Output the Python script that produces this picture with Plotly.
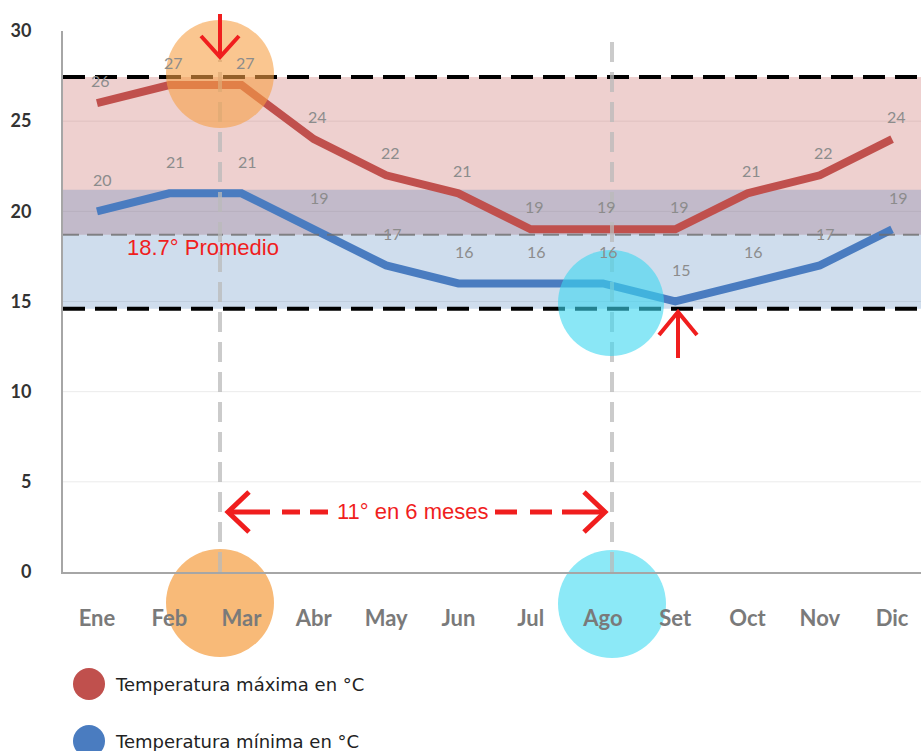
import plotly.graph_objects as go

# --- data -------------------------------------------------------------
meses = ["Ene", "Feb", "Mar", "Abr", "May", "Jun", "Jul", "Ago", "Set", "Oct", "Nov", "Dic"]
temp_max = [26, 27, 27, 24, 22, 21, 19, 19, 19, 21, 22, 24]
temp_min = [20, 21, 21, 19, 17, 16, 16, 16, 15, 16, 17, 19]
promedio = 18.7
banda_max_top = 27.45
banda_min_top = 21.2
banda_min_bottom = 14.6
y_ticks = [0, 5, 10, 15, 20, 25, 30]

# --- canvas geometry --------------------------------------------------
W, H = 921, 751
ML, MR, MT, MB = 63, 0, 31, 179
PW, PH = W - ML - MR, H - MT - MB


def px(x):
    return (x - ML) / PW


def py(y):
    return (H - MB - y) / PH


RED = "#C0504D"
BLUE = "#4A7CC0"
ANN_RED = "#F01E1E"

x_idx = list(range(len(meses)))

fig = go.Figure()
fig.add_trace(go.Scatter(x=x_idx, y=temp_max, mode="lines", name="Temperatura máxima en °C",
                         line=dict(color=RED, width=8), hoverinfo="x+y"))
fig.add_trace(go.Scatter(x=x_idx, y=temp_min, mode="lines", name="Temperatura mínima en °C",
                         line=dict(color=BLUE, width=8), hoverinfo="x+y"))

shapes = []
# light horizontal gridlines
for v in y_ticks[1:-1]:
    shapes.append(dict(type="line", xref="paper", yref="y", x0=0, x1=1, y0=v, y1=v,
                       line=dict(color="#EBEBEB", width=1), layer="below"))
# shaded ranges
shapes.append(dict(type="rect", xref="paper", yref="y", x0=0, x1=1, y0=promedio, y1=banda_max_top,
                   fillcolor="rgba(192,80,77,0.27)", line=dict(width=0), layer="below"))
shapes.append(dict(type="rect", xref="paper", yref="y", x0=0, x1=1, y0=banda_min_bottom, y1=banda_min_top,
                   fillcolor="rgba(79,129,189,0.27)", line=dict(width=0), layer="below"))
# average line
shapes.append(dict(type="line", xref="paper", yref="y", x0=0, x1=1, y0=promedio, y1=promedio,
                   line=dict(color="rgba(110,110,110,0.8)", width=2, dash="16px,8px"), layer="above"))
# extreme lines
for v in (banda_max_top, banda_min_bottom):
    shapes.append(dict(type="line", xref="paper", yref="y", x0=0, x1=1, y0=v, y1=v,
                       line=dict(color="black", width=4, dash="22px,10px"), layer="above"))
# vertical markers
shapes.append(dict(type="line", xref="paper", yref="paper", x0=px(220), x1=px(220), y0=py(572), y1=py(60),
                   line=dict(color="rgba(185,185,185,0.75)", width=4, dash="20px,10px"), layer="above"))
shapes.append(dict(type="line", xref="paper", yref="paper", x0=px(612), x1=px(612), y0=py(572), y1=py(33),
                   line=dict(color="rgba(185,185,185,0.75)", width=4, dash="20px,10px"), layer="above"))


# highlight circles
def circle(cx, cy, r, color, layer):
    return dict(type="circle", xref="paper", yref="paper", xsizemode="pixel", ysizemode="pixel",
                xanchor=px(cx), yanchor=py(cy), x0=-r, x1=r, y0=-r, y1=r,
                fillcolor=color, line=dict(width=0), layer=layer)


ORANGE = "rgba(247,160,70,0.6)"
CYAN = "rgba(60,215,240,0.6)"
shapes.append(circle(220, 74, 54, ORANGE, "above"))
shapes.append(circle(611, 303, 53, CYAN, "above"))
shapes.append(circle(220, 603, 54, "rgba(248,186,120,1)", "below"))
shapes.append(circle(612, 604, 54, "rgba(140,233,247,1)", "below"))


def path(points):
    return "M " + " L ".join(f"{px(a)},{py(b)}" for a, b in points)


def red_path(points, width=4, dash="solid"):
    return dict(type="path", xref="paper", yref="paper", path=path(points),
                line=dict(color=ANN_RED, width=width, dash=dash), layer="above")


# arrows
shapes.append(red_path([(220, 14), (220, 57)]))
shapes.append(red_path([(201, 36), (220, 57), (239, 36)]))
shapes.append(red_path([(678, 358), (678, 312)]))
shapes.append(red_path([(659, 335), (678, 312), (697, 335)]))
shapes.append(red_path([(228, 512), (270, 512)], width=5))
shapes.append(red_path([(282, 512), (328, 512)], width=5, dash="18px,10px"))
shapes.append(red_path([(249, 492), (228, 512), (249, 532)], width=5))
shapes.append(red_path([(495, 512), (562, 512)], width=5, dash="22px,13px"))
shapes.append(red_path([(562, 512), (605, 512)], width=5))
shapes.append(red_path([(584, 492), (605, 512), (584, 532)], width=5))

# legend markers
for cy, col in ((684, RED), (741, BLUE)):
    shapes.append(dict(type="circle", xref="paper", yref="paper", xsizemode="pixel", ysizemode="pixel",
                       xanchor=px(89), yanchor=py(cy), x0=-16, x1=16, y0=-16, y1=16,
                       fillcolor=col, line=dict(width=0)))

annotations = []
LABEL_FONT = dict(family="Lato, Open Sans, sans-serif", size=16, color="#8C8C8C")
for i, v in enumerate(temp_max):
    annotations.append(dict(x=i, y=v, xref="x", yref="y", text=str(v), showarrow=False,
                            xshift=4, yshift=23, font=LABEL_FONT))
for i, v in enumerate(temp_min):
    annotations.append(dict(x=i, y=v, xref="x", yref="y", text=str(v), showarrow=False,
                            xshift=6, yshift=32, font=LABEL_FONT))

annotations.append(dict(x=px(125), y=promedio, xref="paper", yref="y", xanchor="left", yanchor="middle",
                        yshift=-13, text=f"{promedio}° Promedio", showarrow=False,
                        font=dict(family="Liberation Sans, Arial", size=22, color=ANN_RED)))
annotations.append(dict(x=px(412), y=py(511), xref="paper", yref="paper", xanchor="center", yanchor="middle",
                        text="11° en 6 meses", showarrow=False,
                        font=dict(family="Liberation Sans, Arial", size=22, color=ANN_RED)))

LEG_FONT = dict(family="DejaVu Sans", size=18, color="#222222")
annotations.append(dict(x=px(113), y=py(684), xref="paper", yref="paper", xanchor="left", yanchor="middle",
                        text="Temperatura máxima en °C", showarrow=False, font=LEG_FONT))
annotations.append(dict(x=px(113), y=py(741), xref="paper", yref="paper", xanchor="left", yanchor="middle",
                        text="Temperatura mínima en °C", showarrow=False, font=LEG_FONT))

fig.update_layout(
    width=W, height=H,
    margin=dict(l=ML, r=MR, t=MT, b=MB, pad=0),
    paper_bgcolor="white", plot_bgcolor="rgba(0,0,0,0)",
    showlegend=False,
    shapes=shapes,
    annotations=annotations,
    xaxis=dict(range=[-0.47, 11.4], tickvals=x_idx, ticktext=meses, showgrid=False, zeroline=False,
               showline=True, linecolor="#A6A6A6", linewidth=2, ticks="", ticklabelstandoff=26,
               tickfont=dict(family="Lato, sans-serif", size=22, color="#7A7A7A", weight="bold"),
               fixedrange=True),
    yaxis=dict(range=[0, 30], tickvals=y_ticks, showgrid=False, zeroline=False,
               showline=True, linecolor="#A6A6A6", linewidth=2, ticks="", ticklabelstandoff=26,
               tickfont=dict(family="Lato, sans-serif", size=18, color="#333333", weight="bold"),
               fixedrange=True),
)

fig.write_html("out.html")
